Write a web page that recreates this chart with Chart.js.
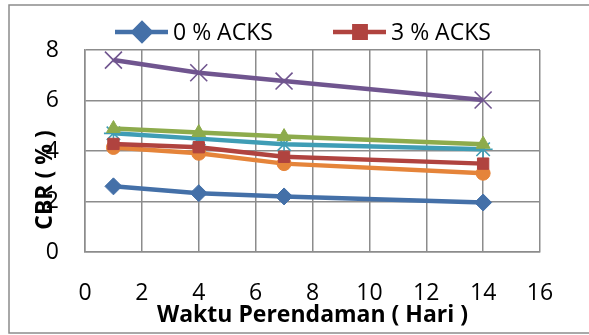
<!DOCTYPE html>
<html>
<head>
<meta charset="utf-8">
<script src="https://cdn.jsdelivr.net/npm/chart.js@4.4.0/dist/chart.umd.min.js"></script>
<style>
  html, body { margin: 0; padding: 0; background: #fff; overflow: hidden; }
  #wrap { position: relative; width: 589px; height: 335px; }
</style>
</head>
<body>
<div id="wrap"><canvas id="cbr-chart" width="589" height="335"></canvas></div>
<script>
// Waktu perendaman (hari) and CBR (%) per ACKS content
const days = [1, 4, 7, 14];
const seriesNames = ["0 % ACKS", "3 % ACKS", "6 % ACKS", "9 % ACKS", "12 % ACKS", "15 % ACKS"];
const cbr0 = [2.6, 2.33, 2.2, 1.96];
const cbr3 = [4.28, 4.15, 3.77, 3.5];
const cbr6 = [4.89, 4.73, 4.57, 4.27];
const cbr9 = [7.6, 7.1, 6.77, 6.02];
const cbr12 = [4.7, 4.49, 4.27, 4.07];
const cbr15 = [4.14, 3.91, 3.5, 3.12];
const xTicks = [0, 2, 4, 6, 8, 10, 12, 14, 16];
const yTicks = [0, 2, 4, 6, 8];
const legendShown = 2; // only the first two entries are visible in the picture

const FONT = "'Open Sans', sans-serif";

(function () {
  const styles = [
    { color: "#4470a8", point: "rectRot", r: 8.5, bw: 1 },
    { color: "#b0433f", point: "rect", r: 8, bw: 1 },
    { color: "#8dab4c", point: "triangle", r: 8, bw: 1 },
    { color: "#70558f", point: "crossRot", r: 12, bw: 1.6 },
    { color: "#3f9db5", point: "star", r: 9.5, bw: 1.6 },
    { color: "#e5843a", point: "circle", r: 7, bw: 1 },
  ];
  const values = [cbr0, cbr3, cbr6, cbr9, cbr12, cbr15];

  const datasets = values.map((vals, i) => ({
    label: seriesNames[i],
    data: vals.map((v, j) => ({ x: days[j], y: v })),
    borderColor: styles[i].color,
    backgroundColor: styles[i].color,
    borderWidth: 4.5,
    pointStyle: styles[i].point,
    pointRadius: styles[i].r,
    pointBorderWidth: styles[i].bw,
    pointBackgroundColor: styles[i].color,
    pointBorderColor: styles[i].color,
    tension: 0,
  }));

  // Outer frame, Excel-style legend and the overlapping axis titles
  const decorations = {
    id: "decorations",
    beforeDraw(chart) {
      const ctx = chart.ctx;
      ctx.save();
      ctx.strokeStyle = "#8c8c8c";
      ctx.lineWidth = 1.5;
      ctx.strokeRect(9, 5, 620, 328);
      ctx.restore();
    },
    afterDraw(chart) {
      const ctx = chart.ctx;
      const area = chart.chartArea;
      ctx.save();

      // legend
      const legendY = 32;
      const starts = [115, 333];
      ctx.font = "23px " + FONT;
      ctx.textBaseline = "alphabetic";
      ctx.textAlign = "left";
      for (let i = 0; i < legendShown; i++) {
        const ds = chart.data.datasets[i];
        const x0 = starts[i];
        ctx.strokeStyle = ds.borderColor;
        ctx.lineWidth = ds.borderWidth;
        ctx.beginPath();
        ctx.moveTo(x0, legendY);
        ctx.lineTo(x0 + 53, legendY);
        ctx.stroke();
        ctx.fillStyle = ds.borderColor;
        Chart.helpers.drawPoint(ctx, {
          pointStyle: ds.pointStyle,
          radius: ds.pointRadius,
          borderWidth: ds.pointBorderWidth,
          rotation: 0,
        }, x0 + 27, legendY);
        ctx.fillStyle = "#000";
        ctx.fillText(ds.label, x0 + 58, 40);
      }

      // axis titles
      ctx.fillStyle = "#000";
      ctx.font = "bold 23px " + FONT;
      ctx.textAlign = "center";
      ctx.textBaseline = "alphabetic";
      ctx.fillText("Waktu Perendaman ( Hari )", (area.left + area.right) / 2, 322);
      ctx.translate(52, 180);
      ctx.rotate(-Math.PI / 2);
      ctx.fillText("CBR ( % )", 0, 0);
      ctx.restore();
    },
  };

  new Chart(document.getElementById("cbr-chart"), {
    type: "line",
    data: { datasets },
    options: {
      responsive: false,
      animation: false,
      layout: { padding: { left: 0, top: 50, right: 49, bottom: 0 } },
      plugins: { legend: { display: false }, tooltip: { enabled: false } },
      scales: {
        x: {
          type: "linear",
          min: xTicks[0],
          max: xTicks[xTicks.length - 1],
          afterFit: (s) => { s.height = 83; },
          afterBuildTicks: (s) => { s.ticks = xTicks.map((v) => ({ value: v })); },
          grid: { color: "#8c8c8c", lineWidth: 1.5, drawTicks: false },
          border: { color: "#8c8c8c", width: 1.5 },
          ticks: { color: "#000", font: { family: FONT, size: 23 }, padding: 28, maxRotation: 0 },
        },
        y: {
          min: yTicks[0],
          max: yTicks[yTicks.length - 1],
          afterFit: (s) => { s.width = 85; },
          afterBuildTicks: (s) => { s.ticks = yTicks.map((v) => ({ value: v })); },
          grid: { color: "#8c8c8c", lineWidth: 1.5, drawTicks: false },
          border: { color: "#8c8c8c", width: 1.5 },
          ticks: { color: "#000", font: { family: FONT, size: 23 }, padding: 26 },
        },
      },
    },
    plugins: [decorations],
  });
})();
</script>
</body>
</html>
